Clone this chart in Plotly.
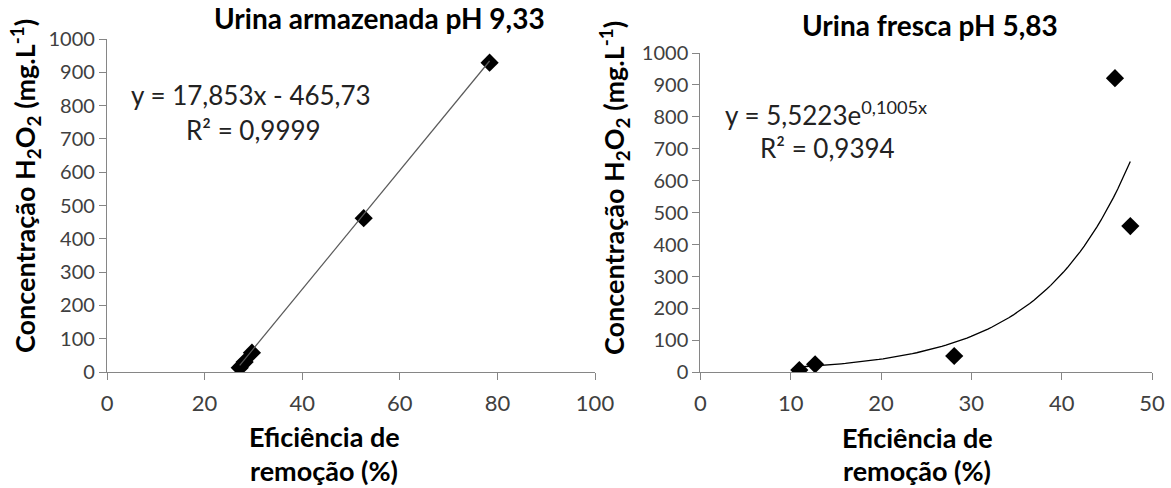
import numpy as np
import plotly.graph_objects as go

# ---- data ----
x_armazenada = [27.2, 28.2, 29.7, 52.6, 78.4]      # Eficiência de remoção (%)
y_armazenada = [13, 30, 58, 462, 929]              # Concentração H2O2 (mg/L)
x_fresca = [10.95, 12.7, 28.1, 45.9, 47.6]
y_fresca = [7, 25, 51, 921, 458]

# trendline coefficients shown on the chart
lin_slope, lin_intercept = 17.853, -465.73
exp_a, exp_b = 5.5223, 0.1005

x_ticks_left = [0, 20, 40, 60, 80, 100]
x_ticks_right = [0, 10, 20, 30, 40, 50]
y_ticks = [0, 100, 200, 300, 400, 500, 600, 700, 800, 900, 1000]

W, H = 1171, 488
FONT = "Lato, 'Open Sans', sans-serif"
AX = "#868686"
TICKC = "#404040"

def px(x):
    return x / W

def py(y):
    return 1 - y / H

fig = go.Figure()

# left chart
fig.add_trace(go.Scatter(x=x_armazenada, y=y_armazenada, mode="markers",
                         marker=dict(symbol="diamond", size=14, color="black"),
                         xaxis="x", yaxis="y", showlegend=False))
xl = np.linspace(min(x_armazenada), max(x_armazenada), 2)
fig.add_trace(go.Scatter(x=xl, y=lin_slope * xl + lin_intercept, mode="lines",
                         line=dict(color="#5a5a5a", width=1.2),
                         xaxis="x", yaxis="y", showlegend=False))

# right chart
fig.add_trace(go.Scatter(x=x_fresca, y=y_fresca, mode="markers",
                         marker=dict(symbol="diamond", size=14, color="black"),
                         xaxis="x2", yaxis="y2", showlegend=False))
xe = np.linspace(min(x_fresca), max(x_fresca), 80)
fig.add_trace(go.Scatter(x=xe, y=exp_a * np.exp(exp_b * xe), mode="lines",
                         line=dict(color="black", width=1.3),
                         xaxis="x2", yaxis="y2", showlegend=False))

axis_common = dict(showgrid=False, zeroline=False, showline=True, linecolor=AX,
                   linewidth=1.3, ticks="outside", tickcolor=AX, ticklen=7,
                   tickwidth=1.3, automargin=False)
xfont = dict(family=FONT, size=22, color=TICKC)
yfont = dict(family=FONT, size=20, color=TICKC)
ysuffix = "\u2002"

fig.update_layout(
    width=W, height=H,
    margin=dict(l=0, r=0, t=0, b=0, autoexpand=False),
    paper_bgcolor="white", plot_bgcolor="white",
    xaxis=dict(domain=[px(107), px(595)], range=[0, 100], tickvals=x_ticks_left,
               anchor="y", tickfont=xfont, ticklabelstandoff=4, **axis_common),
    yaxis=dict(domain=[py(372), py(39)], range=[0, 1000], tickvals=y_ticks,
               anchor="x", tickfont=yfont, ticksuffix=ysuffix, **axis_common),
    xaxis2=dict(domain=[px(700.4), px(1152)], range=[0, 50], tickvals=x_ticks_right,
                anchor="y2", tickfont=xfont, ticklabelstandoff=4, **axis_common),
    yaxis2=dict(domain=[py(372.3), py(53)], range=[0, 1000], tickvals=y_ticks,
                anchor="x2", tickfont=yfont, ticksuffix=ysuffix, **axis_common),
)

def ann(text, x, y, size, bold=False, angle=0, color="black"):
    fig.add_annotation(text=("<b>%s</b>" % text) if bold else text,
                       x=px(x), y=py(y), xref="paper", yref="paper",
                       showarrow=False, textangle=angle,
                       xanchor="center", yanchor="middle",
                       font=dict(family=FONT, size=size, color=color))

# titles
ann("Urina armazenada pH 9,33", 379, 18, 28, bold=True)
ann("Urina fresca pH 5,83", 930, 25, 28, bold=True)

# y-axis titles
ytitle = "Concentração H<sub>2</sub>O<sub>2</sub> (mg.L<sup>-1</sup>)"
ann(ytitle, 25, 186, 27, bold=True, angle=-90)
ann(ytitle, 614, 188, 27, bold=True, angle=-90)

# x-axis titles
ann("Eficiência de", 324, 436, 27, bold=True)
ann("remoção (%)", 324, 470, 27, bold=True)
ann("Eficiência de", 917, 437, 27, bold=True)
ann("remoção (%)", 917, 470, 27, bold=True)

# equations
ann("y = 17,853x - 465,73", 251, 95, 26, color="#222222")
ann("R² = 0,9999", 253, 130, 26, color="#222222")
ann("y = 5,5223e<sup>0,1005x</sup>", 826, 113, 26, color="#222222")
ann("R² = 0,9394", 827, 148, 26, color="#222222")

fig.write_html("out.html")
